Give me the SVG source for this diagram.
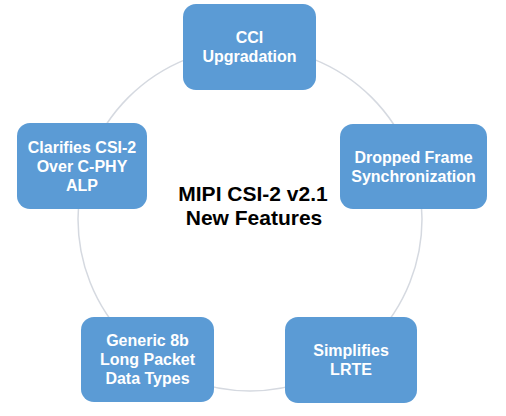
<svg xmlns="http://www.w3.org/2000/svg" width="506" height="416" viewBox="0 0 506 416">
<style>
.box{fill:#5B9BD5;}
.lbl{font-family:"Liberation Sans",Arial,sans-serif;font-weight:bold;font-size:16px;fill:#FFFFFF;text-anchor:middle;}
.title{font-family:"Liberation Sans",Arial,sans-serif;font-weight:bold;font-size:21px;fill:#000000;text-anchor:middle;}
.ring{fill:none;stroke:#D5D9E0;stroke-width:1.5;}
</style>
<rect width="506" height="416" fill="#FFFFFF"/>
<g id="connectors">
<circle class="ring" cx="250" cy="219" r="172"/>
</g>
<g id="center">
<text class="title" x="253" y="201">MIPI CSI-2 v2.1</text>
<text class="title" x="254" y="225">New Features</text>
</g>
<g id="node-cci">
<rect class="box" x="183" y="4" width="133" height="86" rx="13"/>
<text class="lbl" x="249.5" y="43">CCI</text>
<text class="lbl" x="249.5" y="62">Upgradation</text>
</g>
<g id="node-dropped">
<rect class="box" x="340" y="124" width="147" height="85" rx="13"/>
<text class="lbl" x="413.5" y="163">Dropped Frame</text>
<text class="lbl" x="413.5" y="182">Synchronization</text>
</g>
<g id="node-lrte">
<rect class="box" x="285" y="317" width="132" height="86" rx="13"/>
<text class="lbl" x="351" y="356">Simplifies</text>
<text class="lbl" x="351" y="375">LRTE</text>
</g>
<g id="node-generic">
<rect class="box" x="81" y="317" width="133" height="85" rx="13"/>
<text class="lbl" x="147.5" y="346">Generic 8b</text>
<text class="lbl" x="147.5" y="365">Long Packet</text>
<text class="lbl" x="147.5" y="384">Data Types</text>
</g>
<g id="node-cphy">
<rect class="box" x="17" y="123" width="130" height="86" rx="13"/>
<text class="lbl" x="82" y="152.5">Clarifies CSI-2</text>
<text class="lbl" x="82" y="171.5">Over C-PHY</text>
<text class="lbl" x="82" y="190.5">ALP</text>
</g>
</svg>
